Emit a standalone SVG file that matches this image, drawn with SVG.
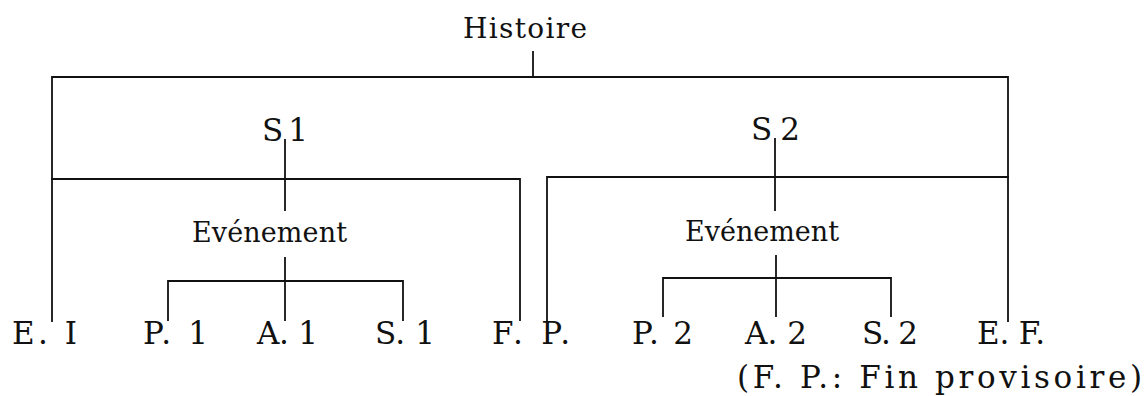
<svg xmlns="http://www.w3.org/2000/svg" width="1144" height="396" viewBox="0 0 1144 396">
  <style>
    .t { font-family: "DejaVu Serif", "Liberation Serif", serif; font-size: 31px; fill: #111; }
    .h { font-size: 28px; }
    .e { font-size: 27px; }
    .c { stroke: #111; stroke-width: 1.8; fill: none; stroke-linecap: square; }
  </style>
  <rect width="1144" height="396" fill="#fff"/>
  <g id="connectors" class="c">
    <!-- Histoire -->
    <path d="M533 52 V77"/>
    <path d="M52 321 V77 H1008 V321"/>
    <!-- S1 -->
    <path d="M285 140 V210"/>
    <path d="M52 179 H520 V320"/>
    <!-- S2 -->
    <path d="M775 139 V210"/>
    <path d="M547 320 V177 H1008"/>
    <!-- Evenement 1 -->
    <path d="M285 258 V320"/>
    <path d="M168 320 V281 H403 V320"/>
    <!-- Evenement 2 -->
    <path d="M776 256 V316"/>
    <path d="M663 316 V278 H891 V316"/>
  </g>
  <g id="histoire"><text class="t h" x="463" y="38" textLength="124" lengthAdjust="spacing">Histoire</text></g>
  <g id="s1"><text class="t" x="262" y="141" textLength="46" lengthAdjust="spacing">S 1</text></g>
  <g id="s2"><text class="t" x="751" y="140" textLength="49" lengthAdjust="spacing">S 2</text></g>
  <g id="evenement1"><text class="t e" x="192" y="242" textLength="155" lengthAdjust="spacing">Evénement</text></g>
  <g id="evenement2"><text class="t e" x="685" y="241" textLength="154" lengthAdjust="spacing">Evénement</text></g>
  <g id="ei"><text class="t" x="12" y="344" textLength="65" lengthAdjust="spacing">E. I</text></g>
  <g id="p1"><text class="t" x="143" y="344" textLength="65" lengthAdjust="spacing">P. 1</text></g>
  <g id="a1"><text class="t" x="257" y="344" textLength="61" lengthAdjust="spacing">A. 1</text></g>
  <g id="s1b"><text class="t" x="375" y="344" textLength="60" lengthAdjust="spacing">S. 1</text></g>
  <g id="fp"><text class="t" x="492" y="344" textLength="78" lengthAdjust="spacing">F. P.</text></g>
  <g id="p2"><text class="t" x="632" y="344" textLength="61" lengthAdjust="spacing">P. 2</text></g>
  <g id="a2"><text class="t" x="745" y="344" textLength="62" lengthAdjust="spacing">A. 2</text></g>
  <g id="s2b"><text class="t" x="862" y="344" textLength="56" lengthAdjust="spacing">S. 2</text></g>
  <g id="ef"><text class="t" x="977" y="344" textLength="68" lengthAdjust="spacing">E. F.</text></g>
  <g id="legend"><text class="t" x="737" y="388" textLength="405" lengthAdjust="spacing">(F. P.: Fin provisoire)</text></g>
</svg>
